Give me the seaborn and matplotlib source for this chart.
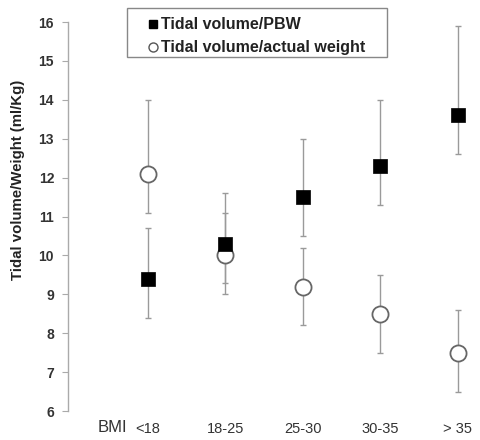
import numpy as np
import pandas as pd
import matplotlib
matplotlib.use("Agg")
import matplotlib.pyplot as plt
from matplotlib.lines import Line2D
from matplotlib.patches import Rectangle
import seaborn as sns

# BMI groups
categories = ["<18", "18-25", "25-30", "30-35", "> 35"]

# Tidal volume / predicted body weight
pbw_mean = [9.4, 10.3, 11.5, 12.3, 13.6]
pbw_low = [8.4, 9.0, 10.5, 11.3, 12.6]
pbw_high = [10.7, 11.6, 13.0, 14.0, 15.9]

# Tidal volume / actual weight
act_mean = [12.1, 10.0, 9.2, 8.5, 7.5]
act_low = [11.1, 9.3, 8.2, 7.5, 6.5]
act_high = [14.0, 11.1, 10.2, 9.5, 8.6]

series_names = ["Tidal volume/PBW", "Tidal volume/actual weight"]

sns.set_style("white")
plt.rcParams['font.family'] = ['Liberation Sans', 'DejaVu Sans']

df = pd.DataFrame({
    "bmi": categories * 2,
    "value": pbw_mean + act_mean,
    "series": [series_names[0]] * 5 + [series_names[1]] * 5,
})

fig = plt.figure(figsize=(4.81, 4.40), dpi=100)
ax = fig.add_axes([0.1414, 0.0659, 0.859, 0.884])

pos = np.arange(len(categories))
grey = "#9a9a9a"

# error bars first so markers sit on top
for mean, low, high in [(act_mean, act_low, act_high), (pbw_mean, pbw_low, pbw_high)]:
    mean = np.array(mean)
    yerr = [mean - np.array(low), np.array(high) - mean]
    ax.errorbar(pos, mean, yerr=yerr, fmt="none", ecolor=grey, elinewidth=1.0,
                capsize=2.5, capthick=1.0, zorder=1)

# circles (actual weight)
sns.scatterplot(data=df[df["series"] == series_names[1]], x="bmi", y="value",
                marker="o", color="white", s=135, edgecolor="#666666", linewidth=1.3,
                legend=False, ax=ax, zorder=3)
# squares (PBW)
sns.scatterplot(data=df[df["series"] == series_names[0]], x="bmi", y="value",
                marker="s", color="black", s=110, edgecolor="black", linewidth=0.5,
                legend=False, ax=ax, zorder=4)

ax.set_ylim(6, 16)
ax.set_xlim(-1.03, 4.30)
ax.set_yticks(range(6, 17))
ax.set_xticks(pos)
ax.set_xticklabels(categories)
ax.set_xlabel("")
ax.set_ylabel("Tidal volume/Weight (ml/Kg)", fontsize=10.8, fontweight="bold", color="#222222")
ax.yaxis.set_label_coords(-0.104, 0.594)

for side in ["top", "right", "bottom"]:
    ax.spines[side].set_visible(False)
ax.spines["left"].set_color("#aaaaaa")
ax.spines["left"].set_linewidth(1.0)
ax.tick_params(axis="y", left=True, length=4, color="#aaaaaa", labelsize=10, labelcolor="#333333", pad=6)
ax.tick_params(axis="x", bottom=False, length=0, labelsize=10.5, labelcolor="#333333", pad=8)
for lbl in ax.get_yticklabels():
    lbl.set_fontweight("bold")

ax.text(-0.46, -0.022, "BMI", transform=ax.get_xaxis_transform(), ha="center", va="top",
        fontsize=12, color="#333333")

handles = [
    Line2D([], [], marker="s", linestyle="none", markersize=6, markerfacecolor="black", markeredgecolor="black"),
    Line2D([], [], marker="o", linestyle="none", markersize=6.5, markerfacecolor="white", markeredgecolor="#555555"),
]
leg = fig.legend(handles, series_names,
                 loc="upper left", bbox_to_anchor=(0.300, 0.968), frameon=False,
                 handlelength=0.7, handletextpad=0.15, borderpad=0.2, labelspacing=0.5,
                 borderaxespad=0, prop={"weight": "bold", "size": 11.5})
for t in leg.get_texts():
    t.set_color("#222222")

# legend box
fig.patches.append(Rectangle((127 / 481, 1 - 57 / 440), 260 / 481, 49 / 440,
                             transform=fig.transFigure, fill=False,
                             edgecolor="#888888", linewidth=1.0))

fig.savefig("out.png", dpi=100)
